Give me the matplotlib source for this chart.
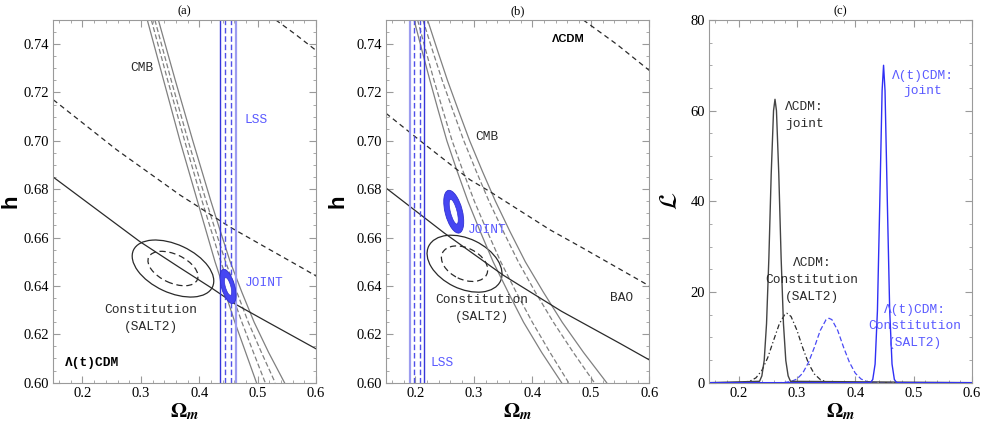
import matplotlib

matplotlib.use("Agg")
import matplotlib.pyplot as plt  # noqa: E402
from matplotlib.patches import Ellipse  # noqa: E402
from matplotlib.transforms import ScaledTranslation  # noqa: E402
from matplotlib.ticker import MultipleLocator  # noqa: E402

plt.rcParams["font.family"] = "serif"
plt.rcParams["font.serif"] = ["Liberation Serif", "DejaVu Serif"]
plt.rcParams["mathtext.fontset"] = "stix"

DPI = 100
SERIF = ["Liberation Serif", "DejaVu Serif"]
MONO = ["Liberation Mono", "DejaVu Sans Mono"]
GRAY = "#808080"
INK = "#2a2a2a"
LBLUE = "#5a5aff"

# ---- panel (a): Lambda(t)CDM ----
CMB_H = [0.75, 0.7375, 0.725, 0.7125, 0.70, 0.6875, 0.675, 0.6625, 0.65, 0.6375, 0.625, 0.6125, 0.60]
A_CMB_OUT_L = [0.311, 0.325, 0.339, 0.353, 0.367, 0.382, 0.397, 0.412, 0.427, 0.444, 0.461, 0.4795, 0.498]
A_CMB_IN_L = [0.318, 0.332, 0.346, 0.3605, 0.375, 0.390, 0.405, 0.421, 0.437, 0.4548, 0.473, 0.4928, 0.513]
A_CMB_IN_R = [0.324, 0.338, 0.352, 0.3665, 0.381, 0.3965, 0.412, 0.4283, 0.445, 0.4643, 0.484, 0.5065, 0.530]
A_CMB_OUT_R = [0.330, 0.3445, 0.359, 0.374, 0.389, 0.4045, 0.420, 0.4363, 0.453, 0.4728, 0.494, 0.5188, 0.546]

A_BAO_SOLID_X = [0.15, 0.230, 0.2985, 0.367, 0.422, 0.461, 0.516, 0.60]
A_BAO_SOLID_H = [0.6850, 0.6706, 0.6583, 0.6475, 0.6390, 0.6326, 0.6252, 0.6140]
A_BAO_DASH_X = [0.15, 0.2586, 0.367, 0.453, 0.504, 0.578, 0.60]
A_BAO_DASH_H = [0.717, 0.6963, 0.6776, 0.6643, 0.6573, 0.6472, 0.6441]
A_BAO_DASH2_X = [0.531, 0.565, 0.60]
A_BAO_DASH2_H = [0.750, 0.7440, 0.7374]

A_LSS_SOLID = [0.4356, 0.463]
A_LSS_DASH = [0.444, 0.454]
A_SN_CENTER = (0.355, 0.6472)
A_JOINT_CENTER = (0.4493, 0.6398)

# ---- panel (b): LambdaCDM ----
B_CMB_OUT_L = [0.198, 0.2113, 0.225, 0.2393, 0.254, 0.2715, 0.290, 0.311, 0.333, 0.3585, 0.385, 0.416, 0.450]
B_CMB_IN_L = [0.204, 0.2178, 0.232, 0.2473, 0.263, 0.2815, 0.301, 0.323, 0.346, 0.3723, 0.400, 0.4302, 0.462]
B_CMB_IN_R = [0.213, 0.2293, 0.246, 0.2643, 0.283, 0.304, 0.326, 0.3505, 0.376, 0.405, 0.436, 0.470, 0.506]
B_CMB_OUT_R = [0.221, 0.2378, 0.255, 0.2738, 0.293, 0.3145, 0.337, 0.3618, 0.388, 0.4187, 0.451, 0.4875, 0.527]

B_BAO_SOLID_X = [0.15, 0.25, 0.35, 0.45, 0.55, 0.60]
B_BAO_SOLID_H = [0.6805, 0.6618, 0.6445, 0.6295, 0.6162, 0.6094]
B_BAO_DASH_X = [0.15, 0.2138, 0.2936, 0.3277, 0.4303, 0.4816, 0.60]
B_BAO_DASH_H = [0.7114, 0.699, 0.6839, 0.679, 0.6632, 0.6563, 0.640]
B_BAO_DASH2_X = [0.487, 0.545, 0.60]
B_BAO_DASH2_H = [0.750, 0.7398, 0.7291]

B_LSS_SOLID = [0.191, 0.2155]
B_LSS_DASH = [0.1984, 0.2087]
B_SN_CENTER = (0.2842, 0.6492)
B_JOINT_CENTER = (0.2657, 0.6707)

# ---- panel (c): 1D likelihoods ----
LCDM_JOINT_X = [0.15, 0.236, 0.240, 0.244, 0.248, 0.252, 0.256, 0.260, 0.2625,
                0.265, 0.269, 0.273, 0.277, 0.281, 0.285, 0.289, 0.60]
LCDM_JOINT_Y = [0, 0.3, 1.5, 4.9, 13, 27.5, 46, 60, 62.5,
                60, 46, 27.5, 13, 4.9, 1.5, 0.3, 0]
LTCDM_JOINT_X = [0.15, 0.426, 0.430, 0.434, 0.438, 0.442, 0.446, 0.4485,
                 0.451, 0.455, 0.459, 0.463, 0.467, 0.471, 0.60]
LTCDM_JOINT_Y = [0, 0, 0.7, 4.1, 15.9, 39.6, 64.4, 70,
                 64.4, 39.6, 15.9, 4.1, 0.7, 0, 0]
LCDM_SN_X = [0.15, 0.20, 0.21, 0.22, 0.23, 0.24, 0.25, 0.26, 0.27, 0.28, 0.283,
             0.29, 0.30, 0.31, 0.32, 0.33, 0.34, 0.35, 0.36, 0.37, 0.60]
LCDM_SN_Y = [0, 0.02, 0.1, 0.36, 1.08, 2.7, 5.5, 9.3, 13.0, 15.2, 15.3,
             14.6, 11.6, 7.7, 4.2, 1.9, 0.7, 0.2, 0.05, 0, 0]
LTCDM_SN_X = [0.15, 0.27, 0.28, 0.29, 0.30, 0.31, 0.32, 0.33, 0.34, 0.35, 0.355,
              0.36, 0.37, 0.38, 0.39, 0.40, 0.41, 0.42, 0.43, 0.44, 0.60]
LTCDM_SN_Y = [0, 0, 0.07, 0.26, 0.8, 2.1, 4.5, 7.8, 11.5, 13.9, 14.2,
              13.9, 11.5, 7.8, 4.5, 2.1, 0.8, 0.26, 0.07, 0, 0]


def px_ellipse(ax, center, a, b, angle, **kw):
    """Ellipse with semi-axes given in output pixels, centred on a data point."""
    tr = ax.figure.dpi_scale_trans + ScaledTranslation(center[0], center[1], ax.transData)
    ax.add_patch(Ellipse((0, 0), 2 * a / DPI, 2 * b / DPI, angle=angle, transform=tr, **kw))


def frame(ax, xlim, ylim, xmaj, xmin, ymaj, ymin):
    ax.set_xlim(*xlim)
    ax.set_ylim(*ylim)
    ax.xaxis.set_major_locator(MultipleLocator(xmaj))
    ax.xaxis.set_minor_locator(MultipleLocator(xmin))
    ax.yaxis.set_major_locator(MultipleLocator(ymaj))
    ax.yaxis.set_minor_locator(MultipleLocator(ymin))
    ax.tick_params(which="both", direction="in", top=True, right=True,
                   color="#9a9a9a", labelsize=10.5, labelcolor="black",
                   labelfontfamily="Liberation Serif")
    ax.tick_params(which="major", length=5, width=0.8, pad=3)
    ax.tick_params(which="minor", length=2.5, width=0.6)
    for s in ax.spines.values():
        s.set_color("#9a9a9a")
        s.set_linewidth(0.8)
    ax.set_xlabel(r"$\mathbf{\Omega}_{\mathbfit{m}}$", fontsize=15, labelpad=1)


def contour_panel(ax, cmb, bao_s, bao_d, bao_d2, lss_s, lss_d, sn_c, joint_c,
                  sn_shape, joint_shape, lss_light_first, hx):
    for xs, ls in zip(cmb, ["-", "--", "--", "-"]):
        if ls == "--":
            ax.plot(xs, CMB_H, color=GRAY, lw=0.9, dashes=(4, 2))
        else:
            ax.plot(xs, CMB_H, color=GRAY, lw=0.9)
    ax.plot(*bao_s, color=INK, lw=0.9)
    ax.plot(*bao_d, color=INK, lw=0.9, dashes=(4, 3))
    ax.plot(*bao_d2, color=INK, lw=0.9, dashes=(4, 3))
    light, dark = ("#9c9cf0", "#3636d8")
    c0, c1 = (light, dark) if lss_light_first else (dark, light)
    ax.axvline(lss_s[0], color=c0, lw=1.6 if c0 == light else 1.0)
    ax.axvline(lss_s[1], color=c1, lw=1.6 if c1 == light else 1.0)
    for x in lss_d:
        ax.axvline(x, color="#5050e8", lw=1.0, dashes=(4, 2))
    (oa, ob, oang), (ia, ib) = sn_shape
    px_ellipse(ax, sn_c, oa, ob, oang, fill=False, ec=INK, lw=0.9)
    px_ellipse(ax, sn_c, ia, ib, oang, fill=False, ec=INK, lw=0.9, ls=(0, (5, 3)))
    (ja, jb, jang), (ha, hb) = joint_shape
    px_ellipse(ax, joint_c, ja, jb, jang, fc="#4646f2", ec="#3030d0", lw=0.6, zorder=4)
    px_ellipse(ax, joint_c, ha, hb, jang, fc="white", ec="#3030d0", lw=0.5, zorder=5)
    frame(ax, (0.15, 0.6), (0.60, 0.75), 0.1, 0.02, 0.02, 0.005)
    ax.set_ylabel("h", family=["Liberation Sans", "DejaVu Sans"], fontweight="bold",
                  fontsize=16)
    ax.yaxis.set_label_coords(hx, 0.5)


fig = plt.figure(figsize=(9.83, 4.29), dpi=DPI)
ax_a = fig.add_axes([0.0542, 0.108, 0.2673, 0.8455])
ax_b = fig.add_axes([0.3927, 0.108, 0.2679, 0.8455])
ax_c = fig.add_axes([0.7216, 0.108, 0.2672, 0.8455])

contour_panel(ax_a, [A_CMB_OUT_L, A_CMB_IN_L, A_CMB_IN_R, A_CMB_OUT_R],
              (A_BAO_SOLID_X, A_BAO_SOLID_H), (A_BAO_DASH_X, A_BAO_DASH_H),
              (A_BAO_DASH2_X, A_BAO_DASH2_H), A_LSS_SOLID, A_LSS_DASH,
              A_SN_CENTER, A_JOINT_CENTER,
              ((43.6, 24.0, -25), (26.8, 14.3)), ((17.7, 6.6, 106), (9.2, 2.7)), False, -0.12)
contour_panel(ax_b, [B_CMB_OUT_L, B_CMB_IN_L, B_CMB_IN_R, B_CMB_OUT_R],
              (B_BAO_SOLID_X, B_BAO_SOLID_H), (B_BAO_DASH_X, B_BAO_DASH_H),
              (B_BAO_DASH2_X, B_BAO_DASH2_H), B_LSS_SOLID, B_LSS_DASH,
              B_SN_CENTER, B_JOINT_CENTER,
              ((39.9, 25.0, -26), (24.6, 15.7)), ((22.0, 8.6, 104.5), (12.7, 3.3)), True, -0.142)

mono = dict(family=MONO, fontsize=9.3)
# panel (a) labels
ax_a.text(0.301, 0.7302, "CMB", color=INK, ha="center", va="center", **mono)
ax_a.text(0.497, 0.7087, "LSS", color=LBLUE, ha="center", va="center", **mono)
ax_a.text(0.4784, 0.6411, "JOINT", color=LBLUE, ha="left", va="center", **mono)
ax_a.text(0.3174, 0.6300, "Constitution", color=INK, ha="center", va="center", **mono)
ax_a.text(0.3174, 0.6229, "(SALT2)", color=INK, ha="center", va="center", **mono)
ax_a.text(0.170, 0.6080, "Λ(t)CDM", color="black", ha="left", va="center",
          fontweight="bold", **mono)
# panel (b) labels
ax_b.text(0.4622, 0.7421, "ΛCDM", color="black", ha="center", va="center",
          family=["Liberation Sans", "DejaVu Sans"], fontweight="bold", fontsize=8)
ax_b.text(0.3226, 0.7018, "CMB", color=INK, ha="center", va="center", **mono)
ax_b.text(0.2896, 0.6632, "JOINT", color=LBLUE, ha="left", va="center", **mono)
ax_b.text(0.3144, 0.6342, "Constitution", color=INK, ha="center", va="center", **mono)
ax_b.text(0.3144, 0.6273, "(SALT2)", color=INK, ha="center", va="center", **mono)
ax_b.text(0.5529, 0.6349, "BAO", color=INK, ha="center", va="center", **mono)
ax_b.text(0.2457, 0.6080, "LSS", color=LBLUE, ha="center", va="center", **mono)

# panel (c)
ax_c.plot(LCDM_SN_X, LCDM_SN_Y, color=INK, lw=0.9, dashes=(4, 2, 1, 2))
ax_c.plot(LTCDM_SN_X, LTCDM_SN_Y, color="#4a4af5", lw=0.9, dashes=(4, 2))
ax_c.plot(LCDM_JOINT_X, LCDM_JOINT_Y, color="#444444", lw=1.0)
ax_c.plot(LTCDM_JOINT_X, LTCDM_JOINT_Y, color="#2f2ff5", lw=1.0)
frame(ax_c, (0.15, 0.6), (0, 80), 0.1, 0.02, 20, 5)
ax_c.set_ylabel(r"$\mathcal{L}$", fontsize=18)
ax_c.yaxis.set_label_coords(-0.105, 0.5)
ax_c.text(0.2793, 60.7, "ΛCDM:", color=INK, ha="left", va="center", **mono)
ax_c.text(0.2793, 57.1, "joint", color=INK, ha="left", va="center", **mono)
ax_c.text(0.516, 67.7, "Λ(t)CDM:", color=LBLUE, ha="center", va="center", **mono)
ax_c.text(0.516, 64.3, "joint", color=LBLUE, ha="center", va="center", **mono)
ax_c.text(0.326, 26.3, "ΛCDM:", color=INK, ha="center", va="center", **mono)
ax_c.text(0.326, 22.6, "Constitution", color=INK, ha="center", va="center", **mono)
ax_c.text(0.326, 19.0, "(SALT2)", color=INK, ha="center", va="center", **mono)
ax_c.text(0.5016, 16.0, "Λ(t)CDM:", color=LBLUE, ha="center", va="center", **mono)
ax_c.text(0.5016, 12.5, "Constitution", color=LBLUE, ha="center", va="center", **mono)
ax_c.text(0.5016, 8.8, "(SALT2)", color=LBLUE, ha="center", va="center", **mono)

for ax, t in [(ax_a, "(a)"), (ax_b, "(b)"), (ax_c, "(c)")]:
    ax.set_title(t, fontsize=9, pad=4, family=SERIF)

fig.savefig("out.png", dpi=DPI)
